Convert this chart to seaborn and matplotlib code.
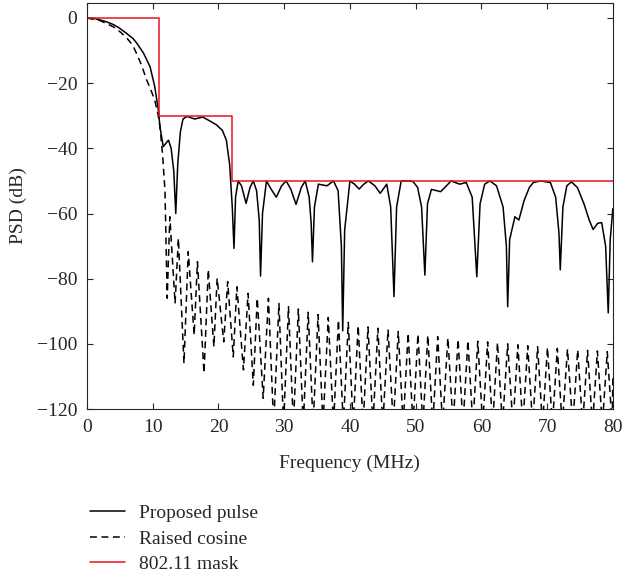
import pandas as pd
import matplotlib
matplotlib.use("Agg")
import matplotlib.pyplot as plt
import seaborn as sns

# proposed pulse PSD
pulse_freq = [0, 1, 2, 3, 4, 5, 6, 7, 7.6, 8.6, 9.6, 10.3, 10.85, 11.1, 11.6, 12.1, 12.4,
              12.8, 13.2, 13.5, 13.8, 14.2, 14.6, 15.2, 16.4, 17.6, 18.6, 19.7, 20.6, 21.2,
              21.7, 22.1, 22.36, 22.6, 23.0, 23.5, 24.2, 24.8, 25.3, 25.8, 26.2, 26.4, 26.7,
              27.3, 28.0, 28.8, 29.6, 30.3, 31.0, 31.8, 32.6, 33.2, 33.8, 34.1, 34.3, 34.6,
              35.2, 36.5, 37.5, 38.2, 38.7, 38.9, 39.2, 40.0, 40.7, 41.4, 42.1, 42.8, 43.8,
              44.6, 45.6, 46.2, 46.7, 47.1, 47.8, 49.0, 49.6, 50.3, 50.9, 51.4, 51.8, 52.4,
              53.8, 55.4, 56.7, 57.7, 58.6, 59.3, 59.8, 60.5, 61.3, 62.3, 63.3, 63.8, 64.0,
              64.3, 65.1, 65.7, 66.5, 67.3, 67.9, 69.0, 70.5, 71.3, 71.8, 72.0, 72.4, 73.0,
              73.7, 74.6, 75.6, 76.4, 77.0, 77.7, 78.3, 78.9, 79.3, 79.6, 80.0]
pulse_psd = [0, -0.1, -0.6, -1.2, -2.0, -3.2, -4.7, -6.3, -7.8, -10.8, -15, -21, -28.2, -33.4,
             -39.5, -38.2, -37.5, -40, -47, -60, -45, -35, -31, -30.2, -31, -30.4, -31.5,
             -32.8, -34.5, -37.5, -45, -58, -70.7, -55, -50, -51.5, -56.9, -52, -50, -53,
             -62, -79.2, -60, -50, -52.5, -55, -51.5, -50, -52.5, -57.2, -52, -50, -55, -63,
             -74.8, -58, -51, -51.5, -50, -53, -70, -96, -65, -50, -51, -52.5, -51, -50,
             -51.5, -53.8, -51, -58, -85.5, -58, -50, -50, -50.2, -52, -58, -78.9, -57,
             -52.6, -53.3, -50, -51, -50.5, -55, -79.4, -57, -51, -50, -51.5, -58, -70,
             -88.6, -68, -61, -62, -56, -52, -50.5, -50, -50.5, -55, -66, -77.3, -58, -51.5,
             -50.3, -52, -57, -62, -64.9, -63, -62.8, -70, -90.5, -68, -58.5]

# raised cosine PSD
rc_freq = [0, 2, 4, 5, 6, 7, 7.6, 8.3, 9.07, 9.7, 10.3, 10.8, 11.1, 11.5, 11.86, 12.2, 12.6,
           13.4, 13.9, 14.75, 15.4, 16.3, 16.8, 17.8, 18.45, 19.3, 19.8, 20.8, 21.4, 22.25,
           22.8, 23.8, 24.5, 25.3, 25.9, 26.8, 27.6, 28.4, 29.2, 29.9, 30.65, 31.4, 32.15,
           32.9, 33.65, 34.4, 35.15, 35.9, 36.7, 37.5, 38.25, 39.0, 39.75, 40.5, 41.25,
           42.0, 42.75, 43.5, 44.25, 45.0, 45.8, 46.6, 47.35, 48.1, 48.85, 49.6, 50.35,
           51.1, 51.85, 52.6, 53.35, 54.1, 54.9, 55.7, 56.45, 57.2, 57.95, 58.7, 59.45,
           60.2, 60.95, 61.7, 62.45, 63.2, 64.0, 64.8, 65.55, 66.3, 67.05, 67.8, 68.55,
           69.3, 70.05, 70.8, 71.55, 72.3, 73.1, 73.9, 74.65, 75.4, 76.15, 76.9, 77.65,
           78.4, 79.15, 79.9, 80.0]
rc_psd = [0, -0.8, -2.7, -4.2, -6, -8.5, -11.2, -14.5, -19, -22, -25.2, -29.5, -33.4, -42,
          -53, -86, -61, -87.6, -67.6, -106, -71.7, -97.3, -74.8, -109, -77.2, -100.9,
          -79.9, -99.4, -80.9, -104, -82.5, -108, -84.5, -112.7, -86, -116.7, -86, -125,
          -87.6, -125, -88.6, -125, -89.3, -125, -90.3, -125, -91.0, -125, -91.9, -125,
          -92.7, -125, -93.4, -125, -94.4, -125, -94.8, -125, -95.2, -125, -95.6, -125,
          -96.2, -125, -96.7, -125, -97.0, -125, -97.4, -125, -97.8, -125, -98.2, -125,
          -98.6, -125, -99.0, -125, -99.2, -125, -99.4, -125, -99.6, -125, -100.0, -125,
          -100.3, -125, -100.6, -125, -100.9, -125, -101.1, -125, -101.4, -125, -101.6,
          -125, -101.8, -125, -102.0, -125, -102.2, -125, -102.4, -125, -110]

# 802.11 spectral mask
mask_freq = [0, 11, 11, 22, 22, 80]
mask_psd = [0, 0, -30, -30, -50, -50]

sns.set_theme(style="ticks")
plt.rcParams['font.family'] = ['Liberation Serif', 'DejaVu Serif']
plt.rcParams['font.size'] = 14

fig = plt.figure(figsize=(6.26, 5.79), dpi=100)
ax = fig.add_axes([0.139, 0.2936, 0.840, 0.7012])

df_pulse = pd.DataFrame({'f': pulse_freq, 'psd': pulse_psd})
df_rc = pd.DataFrame({'f': rc_freq, 'psd': rc_psd})
df_mask = pd.DataFrame({'f': mask_freq, 'psd': mask_psd})

sns.lineplot(data=df_pulse, x='f', y='psd', ax=ax, color='black', lw=1.1,
             estimator=None, sort=False, label='Proposed pulse')
sns.lineplot(data=df_rc, x='f', y='psd', ax=ax, color='black', lw=1.1,
             estimator=None, sort=False, dashes=False, label='Raised cosine')
ax.lines[-1].set_dashes((4.5, 3))
sns.lineplot(data=df_mask, x='f', y='psd', ax=ax, color='#e8141c', lw=1.1,
             estimator=None, sort=False, label='802.11 mask')

ax.set_xlim(0, 80)
ax.set_ylim(-120, 4.6)
ax.set_xticks(range(0, 81, 10))
ax.set_yticks(range(-120, 1, 20))
ax.tick_params(direction='in', top=True, right=True, labelsize=14, length=4, width=0.8)
ax.tick_params(axis='y', pad=7)
ax.tick_params(axis='x', pad=7)
for s in ax.spines.values():
    s.set_linewidth(0.8)
ax.set_xlabel('Frequency (MHz)', fontsize=14, labelpad=14)
ax.set_ylabel('PSD (dB)', fontsize=14, labelpad=7)

handles, labels = ax.get_legend_handles_labels()
ax.get_legend().remove()
fig.legend(handles, labels, loc='upper left', bbox_to_anchor=(0.131, 0.142),
           frameon=False, fontsize=14, handlelength=1.8, handletextpad=0.75,
           labelspacing=0.4, borderaxespad=0)

fig.savefig('out.png', dpi=100)
